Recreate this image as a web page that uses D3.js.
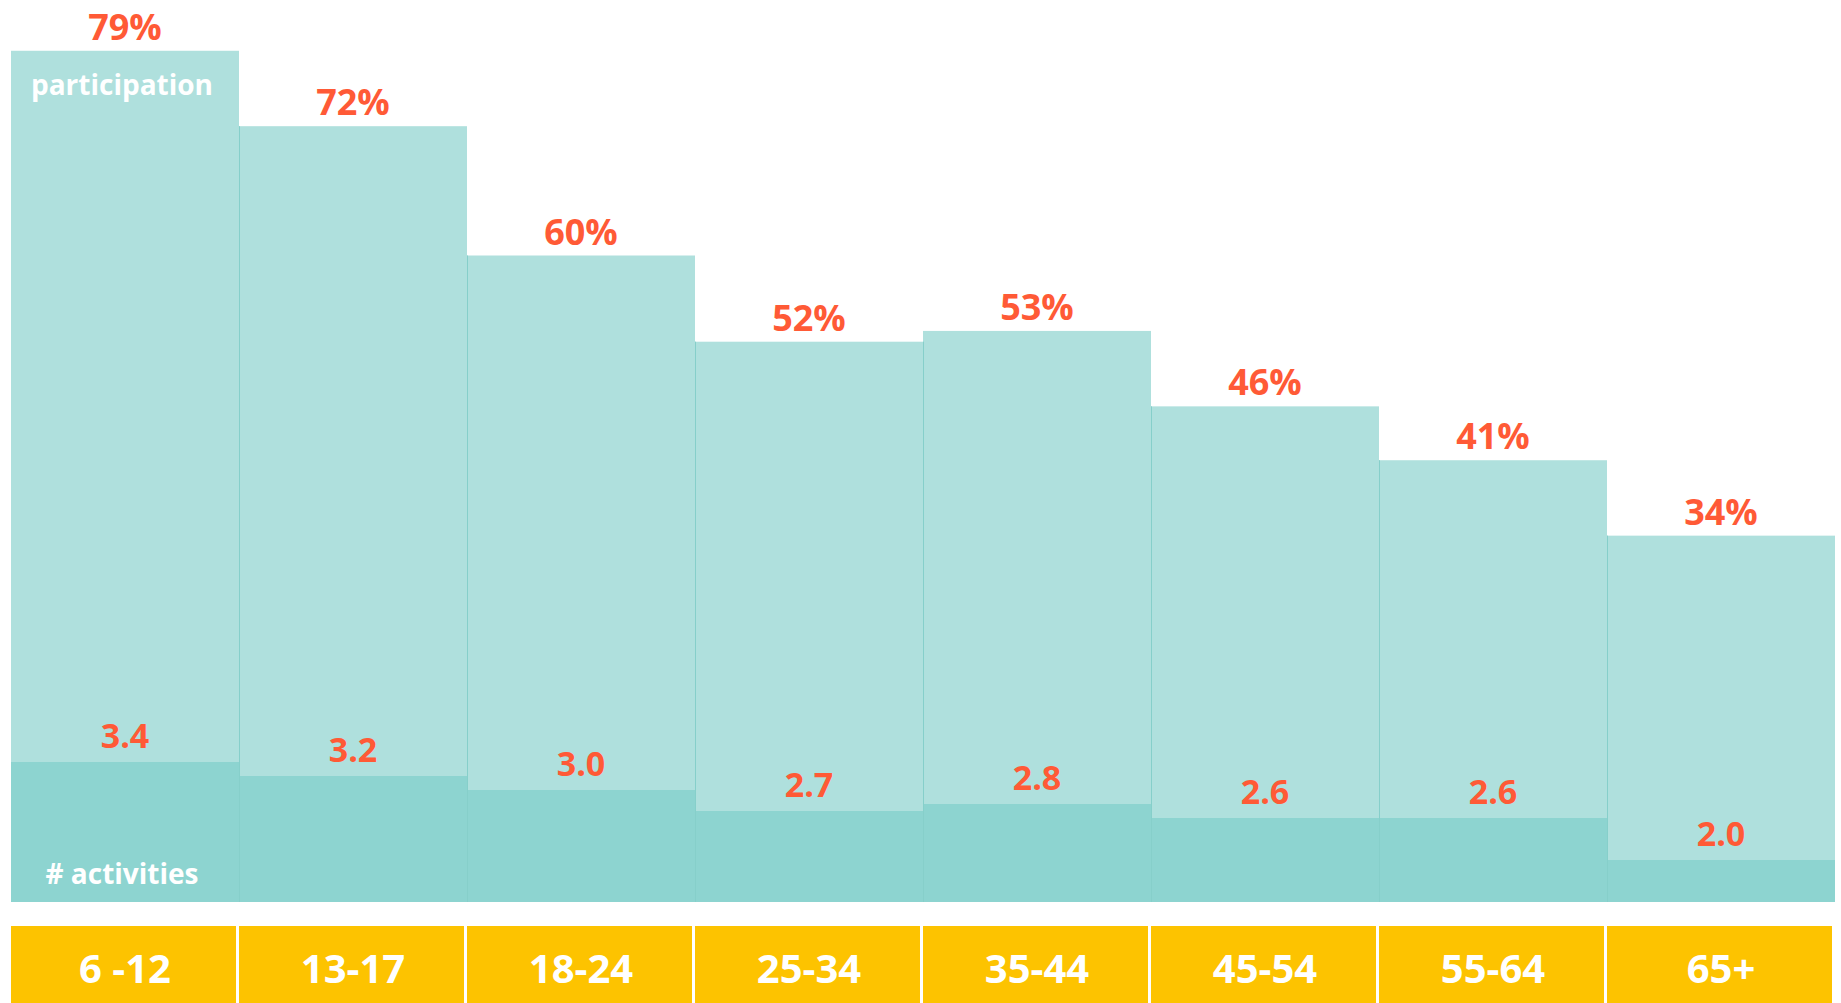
<!DOCTYPE html>
<html>
<head>
<meta charset="utf-8">
<script src="https://cdn.jsdelivr.net/npm/d3@7"></script>
<style>
    body { margin: 0; background: #fff; }
    svg { display: block; font-family: "Open Sans", sans-serif; font-weight: 700; }
</style>
</head>
<body>
<div id="viz-container"></div>
<script>
let ages = ['6 -12', '13-17', '18-24', '25-34', '35-44', '45-54', '55-64', '65+'];
let participation = [79, 72, 60, 52, 53, 46, 41, 34];
let activities = [3.4, 3.2, 3.0, 2.7, 2.8, 2.6, 2.6, 2.0];

let w = 1841, h = 1003;
let base = 902;

let viz = d3.select("#viz-container")
    .append("svg")
    .attr('width', w)
    .attr('height', h)

let x = d3.scaleBand()
    .domain(ages)
    .range([11, 1835])
    .padding(0)

// participation (%)
let yP = d3.scaleLinear()
    .domain([0, 80])
    .range([base, 40])

// number of activities, scale does not start at 0
let yA = d3.scaleLinear()
    .domain([1.4, 3.4])
    .range([base, base - 140])

let data = ages.map((a, i) => ({ age: a, p: participation[i], n: activities[i] }))

// light bars (participation)
viz.selectAll('rect.part').data(data).enter()
    .append('rect')
    .attr('class', 'part')
    .attr('x', d => x(d.age))
    .attr('y', d => yP(d.p))
    .attr('width', x.bandwidth())
    .attr('height', d => base - yP(d.p))
    .attr('fill', '#afe0dd')

// dark bars (activities)
viz.selectAll('rect.act').data(data).enter()
    .append('rect')
    .attr('class', 'act')
    .attr('x', d => x(d.age))
    .attr('y', d => yA(d.n))
    .attr('width', x.bandwidth())
    .attr('height', d => base - yA(d.n))
    .attr('fill', '#8dd4d0')

// thin divider lines between bars
viz.selectAll('line.div').data(data.slice(1)).enter()
    .append('line')
    .attr('x1', d => x(d.age) + 0.5)
    .attr('x2', d => x(d.age) + 0.5)
    .attr('y1', (d, i) => Math.max(yP(d.p), yP(data[i].p)))
    .attr('y2', base)
    .attr('stroke', '#86cfca')
    .attr('stroke-width', 1)

// percentage labels
viz.selectAll('text.pl').data(data).enter()
    .append('text')
    .attr('x', d => x(d.age) + x.bandwidth() / 2)
    .attr('y', d => yP(d.p) - 11)
    .attr('text-anchor', 'middle')
    .attr('font-size', '36px')
    .attr('fill', '#ff5a36')
    .text(d => d.p + '%')

// activities labels
viz.selectAll('text.al').data(data).enter()
    .append('text')
    .attr('x', d => x(d.age) + x.bandwidth() / 2)
    .attr('y', d => yA(d.n) - 14)
    .attr('text-anchor', 'middle')
    .attr('font-size', '34px')
    .attr('fill', '#ff5a36')
    .text(d => d.n.toFixed(1))

// series names inside first bar
viz.append('text')
    .attr('x', x(ages[0]) + x.bandwidth() / 2 - 3)
    .attr('y', 95)
    .attr('text-anchor', 'middle')
    .attr('font-size', '28px')
    .attr('fill', '#ffffff')
    .text('participation')

viz.append('text')
    .attr('x', x(ages[0]) + x.bandwidth() / 2 - 3)
    .attr('y', 884)
    .attr('text-anchor', 'middle')
    .attr('font-size', '28px')
    .attr('fill', '#ffffff')
    .text('# activities')

// yellow age boxes
viz.selectAll('rect.age').data(ages).enter()
    .append('rect')
    .attr('x', d => x(d))
    .attr('y', 926)
    .attr('width', x.bandwidth() - 3)
    .attr('height', h - 926)
    .attr('fill', '#fdc300')

viz.selectAll('text.age').data(ages).enter()
    .append('text')
    .attr('x', d => x(d) + x.bandwidth() / 2)
    .attr('y', 983)
    .attr('text-anchor', 'middle')
    .attr('font-size', '40px')
    .attr('fill', '#ffffff')
    .text(d => d)
</script>
</body>
</html>
